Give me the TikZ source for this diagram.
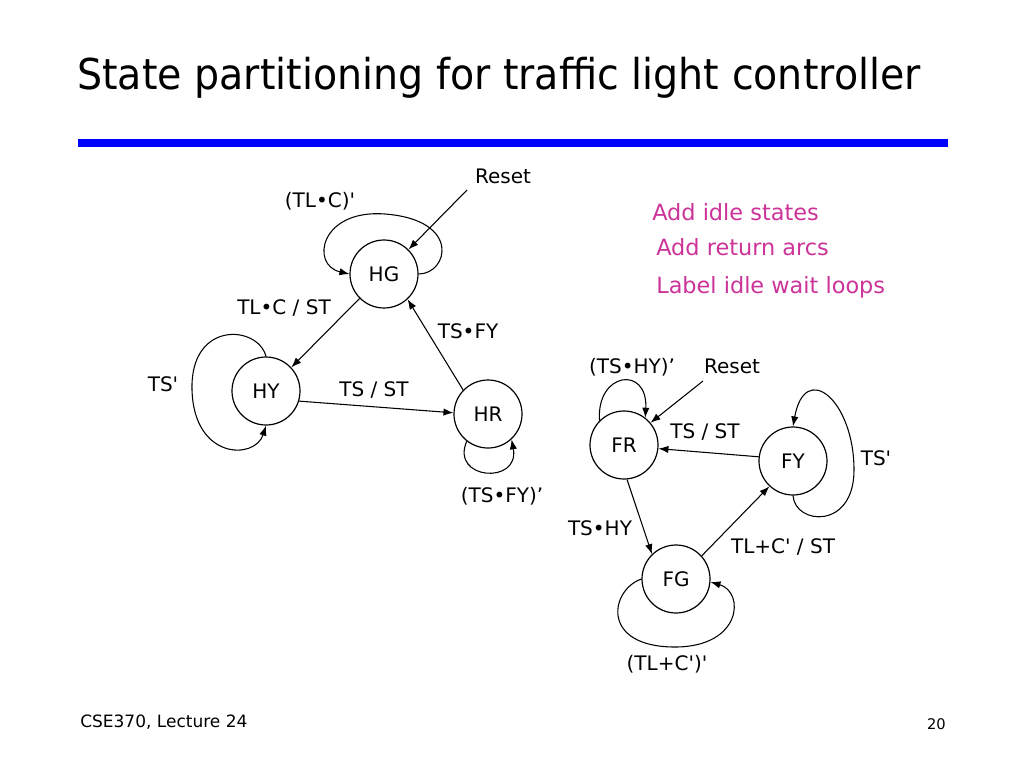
\documentclass[tikz,border=0pt]{standalone}
\usepackage{fontspec}
\setmainfont{DejaVu Sans}[Ligatures=TeXOff]
\newfontfamily\titlefont{DejaVu Sans}[FakeStretch=0.93]
\usetikzlibrary{arrows.meta}
\definecolor{pinktext}{RGB}{204,51,153}
\definecolor{rulecol}{RGB}{0,0,255}
\tikzset{
  state/.style={circle,draw,line width=0.9pt,minimum size=51pt,inner sep=0pt,font=\fontsize{15}{18}\selectfont},
  lbl/.style={inner sep=0pt,font=\fontsize{15}{18}\selectfont},
  arr/.style={line width=0.8pt,-{Latex[length=7.5pt,width=5.5pt]}},
  note/.style={anchor=base west,inner sep=0pt,text=pinktext,font=\fontsize{16.8}{20}\selectfont}
}
\begin{document}
\begin{tikzpicture}[x=0.75pt,y=-0.75pt]
\useasboundingbox (0,0) rectangle (1024,768);
% title and rule
\node[anchor=base west,inner sep=0pt,font=\titlefont\fontsize{31.9}{36}\selectfont] (title) at (77,89) {State partitioning for traffic light controller};
\fill[rulecol] (78,139) rectangle (948,147);
% left machine
\node[state] (HG) at (384,274) {HG};
\node[state] (HY) at (266,391) {HY};
\node[state] (HR) at (488,414) {HR};
\coordinate (r1) at (467,190);
\node[lbl] (reset1) at (503,176) {Reset};
\node[lbl] (l1) at (320,201) {(TL•C)'};
\node[lbl] (l2) at (284,308) {TL•C / ST};
\node[lbl] (l3) at (468,331) {TS•FY};
\node[lbl] (l4) at (163,384) {TS'};
\node[lbl] (l5) at (374,390) {TS / ST};
\node[lbl] (l6) at (502,496) {(TS•FY)’};
\draw[arr] (r1) -- (HG.45);
\draw[arr] (HG.225) -- (HY.43);
\draw[arr] (HY.-17) -- (HR.178);
\draw[arr] (HR.136) -- (HG.-47);
\draw[arr] (HG.east) .. controls (448,274) and (462,220) .. (385,214) .. controls (320,209) and (310,265) .. (HG.west);
\draw[arr] (HY.north) .. controls (258,325) and (190,320) .. (192,390) .. controls (194,460) and (255,460) .. (HY.south);
\draw[arr] (HR.232) .. controls (450,480) and (520,485) .. (HR.313);
% right machine
\node[state] (FR) at (624,445) {FR};
\node[state] (FY) at (793,461) {FY};
\node[state] (FG) at (676,579) {FG};
\coordinate (r2) at (703,381);
\node[lbl] (reset2) at (732,366) {Reset};
\node[lbl] (m1) at (632,367) {(TS•HY)’};
\node[lbl] (m2) at (705,432) {TS / ST};
\node[lbl] (m3) at (876,458) {TS'};
\node[lbl] (m4) at (600,528) {TS•HY};
\node[lbl] (m5) at (783,547) {TL+C' / ST};
\node[lbl] (m6) at (667,664) {(TL+C')'};
\draw[arr] (r2) -- (FR.40);
\draw[arr] (FY.173) -- (FR.-6);
\draw[arr] (FR.-85) -- (FG.134);
\draw[arr] (FG.42) -- (FY.227);
\draw[arr] (FR.135) .. controls (596,372) and (648,365) .. (FR.52);
\draw[arr] (FY.south) .. controls (795,525) and (854,530) .. (854,470) .. controls (854,400) and (805,360) .. (FY.north);
\draw[arr] (FG.west) .. controls (610,590) and (600,647) .. (675,647) .. controls (742,647) and (745,592) .. (FG.-5);
% notes
\node[note] (n1) at (652,220) {Add idle states};
\node[note] (n2) at (656,255) {Add return arcs};
\node[note] (n3) at (656,293) {Label idle wait loops};
% footer
\node[anchor=base west,inner sep=0pt,font=\fontsize{12.75}{15}\selectfont] (foot) at (80,727) {CSE370, Lecture 24};
\node[anchor=base east,inner sep=0pt,font=\fontsize{11}{13}\selectfont] (page) at (946,729) {20};
\end{tikzpicture}
\end{document}
